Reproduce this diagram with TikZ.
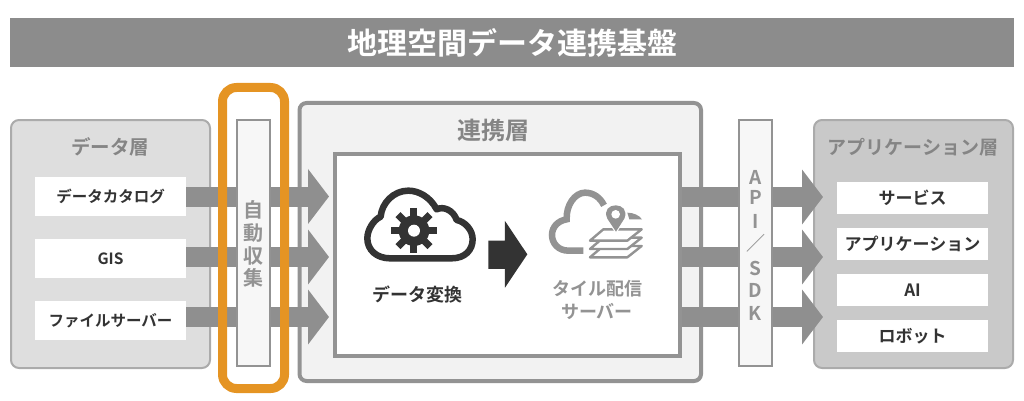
\documentclass[tikz,border=0pt]{standalone}
\usepackage{fontspec}
\setmainfont{Noto Sans CJK JP Bold}
\usetikzlibrary{arrows.meta}
\definecolor{band}{HTML}{8C8C8C}
\definecolor{orangef}{HTML}{E59423}
\definecolor{dark}{HTML}{333333}
\definecolor{midg}{HTML}{858585}
\definecolor{lineg}{HTML}{939393}
\definecolor{softg}{HTML}{ABABAB}
\definecolor{arrowg}{HTML}{8F8F8F}
\tikzset{
 x=1pt,y=-1pt,
 layerbox/.style={draw=softg,line width=2pt,rounded corners=8pt,inner sep=0pt,minimum width=#1},
 whitebox/.style={fill=white,inner sep=0pt,minimum width=151pt,font=\fontsize{15.5}{16}\selectfont,text=dark},
 appbox/.style={whitebox,minimum height=32pt,font=\fontsize{17}{17}\selectfont},
 sidebar/.style={draw=lineg,line width=2pt,fill=black!3,inner sep=0pt,minimum width=33pt,minimum height=246pt},
 flow/.style={draw=arrowg,line width=20pt,-{Triangle[length=21pt,width=54pt]}},
 heading/.style={text=midg,inner sep=0pt,font=\fontsize{#1}{#1}\selectfont},
}
\begin{document}
\begin{tikzpicture}
\useasboundingbox (0,0) rectangle (1024,401);
\node[fill=band,text=white,inner sep=0pt,minimum width=1004pt,minimum height=49pt,font=\fontsize{30}{30}\selectfont] (title) at (512,42.5) {地理空間データ連携基盤};
\node[layerbox=199pt,fill=black!13,minimum height=248pt] (datal) at (110.5,244) {};
\node[heading=19.5] (datat) at (110,147) {データ層};
\node[whitebox,minimum height=39pt] (d1) at (110.5,196.5) {データカタログ};
\node[whitebox,minimum height=39pt] (d2) at (110.5,258.5) {GIS};
\node[whitebox,minimum height=39pt] (d3) at (110.5,320.5) {ファイルサーバー};
\node[layerbox=199pt,fill=black!21,minimum height=248pt] (appl) at (913.5,244) {};
\node[heading=19] (appt) at (913,147) {アプリケーション層};
\node[appbox] (a1) at (912.5,198) {サービス};
\node[appbox] (a2) at (912.5,244) {アプリケーション};
\node[appbox] (a3) at (912.5,290) {AI};
\node[appbox] (a4) at (912.5,336) {ロボット};
\node[draw=lineg,line width=4pt,fill=black!5,rounded corners=7pt,inner sep=0pt,minimum width=401.5pt,minimum height=278pt] (link) at (500.25,242) {};
\node[heading=24] (linkt) at (493,130) {連携層};
\node[draw=lineg,line width=4pt,fill=white,inner sep=0pt,minimum width=345.5pt,minimum height=202pt] (inner) at (507.25,255) {};
\coordinate (t1) at (329,196.5);\coordinate (t2) at (329,257);\coordinate (t3) at (329,317);
\coordinate (u1) at (823,197);\coordinate (u2) at (823,257);\coordinate (u3) at (823,317);
\draw[flow] (d1.east) -- (t1);
\draw[flow] (d2.east |- t2) -- (t2);
\draw[flow] (d3.east |- t3) -- (t3);
\draw[flow] (inner.east |- u1) -- (u1);
\draw[flow] (inner.east |- u2) -- (u2);
\draw[flow] (inner.east |- u3) -- (u3);
\node[sidebar] (coll) at (253.5,243) {};
\node[sidebar] (api) at (755.5,243) {};
\foreach \c/\y/\n in {自/210/c1,動/233/c2,収/256/c3,集/278/c4}
  \node[text=lineg,inner sep=0pt,font=\fontsize{20}{20}\selectfont] (\n) at (253.5,\y) {\c};
\foreach \c/\y/\n in {A/177/p1,P/197/p2,I/221/p3,／/243/p4,S/268/p5,D/290/p6,K/313/p7}
  \node[text=lineg,inner sep=0pt,font=\fontsize{19}{19}\selectfont] (\n) at (755.5,\y) {\c};
\node[draw=orangef,line width=9pt,rounded corners=14pt,inner sep=0pt,minimum width=62pt,minimum height=301pt] (frame) at (253.5,238) {};
\begin{scope}[shift={(340pt,-170pt)},x=0.3333pt,y=-0.3333pt]
\draw[dark,line width=6.5pt,line join=round] (150,265) -- (335,265) .. controls (375,265) and (398,240) .. (398,208) .. controls (398,180) and (375,155) .. (350,150) .. controls (340,120) and (310,108) .. (290,118) .. controls (270,80) and (235,62) .. (205,62) .. controls (160,62) and (125,100) .. (122,140) .. controls (100,150) and (82,180) .. (82,205) .. controls (82,240) and (110,265) .. (150,265) -- cycle;
\foreach \a in {0,45,90,135}
  \draw[dark,line width=7pt] ([shift={(\a:-68)}]222,182) -- ([shift={(\a:68)}]222,182);
\fill[dark] (222,182) circle[radius=46];
\fill[white] (222,182) circle[radius=18];
\fill[dark] (445,212) -- (495,212) -- (495,153) -- (562,253) -- (495,353) -- (495,297) -- (445,297) -- cycle;
\end{scope}
\begin{scope}[shift={(540pt,-180pt)},x=0.3333pt,y=-0.3333pt]
\draw[lineg,line width=6.5pt] (130,212) -- (85,212) .. controls (55,212) and (36,190) .. (36,165) .. controls (36,140) and (55,122) .. (80,118) .. controls (78,75) and (105,38) .. (135,38) .. controls (160,38) and (180,52) .. (192,76);
\fill[lineg] (262,98) .. controls (280,98) and (298,106) .. (306,118) -- (268,118) -- cycle;
\foreach \o in {50,25,0}
  \draw[lineg,line width=2.4pt,fill=white,line join=round,shift={(0pt,-\o*0.3333pt)}] (190,148) -- (305,148) -- (262,182) -- (150,182) -- cycle;
\fill[white] (228,162) -- (196,112) -- (258,112) -- cycle;
\fill[lineg] (228,155) -- (202,116) .. controls (190,90) and (208,76) .. (227,76) .. controls (246,76) and (264,90) .. (253,116) -- cycle;
\fill[white] (227,103) circle[radius=13];
\end{scope}
\node[text=dark,inner sep=0pt,font=\fontsize{18}{18}\selectfont] (conv) at (417,295) {データ変換};
\node[text=lineg,inner sep=0pt,font=\fontsize{18}{18}\selectfont] (tile1) at (597,289) {タイル配信};
\node[text=lineg,inner sep=0pt,font=\fontsize{18}{18}\selectfont] (tile2) at (597,311) {サーバー};
\end{tikzpicture}
\end{document}
